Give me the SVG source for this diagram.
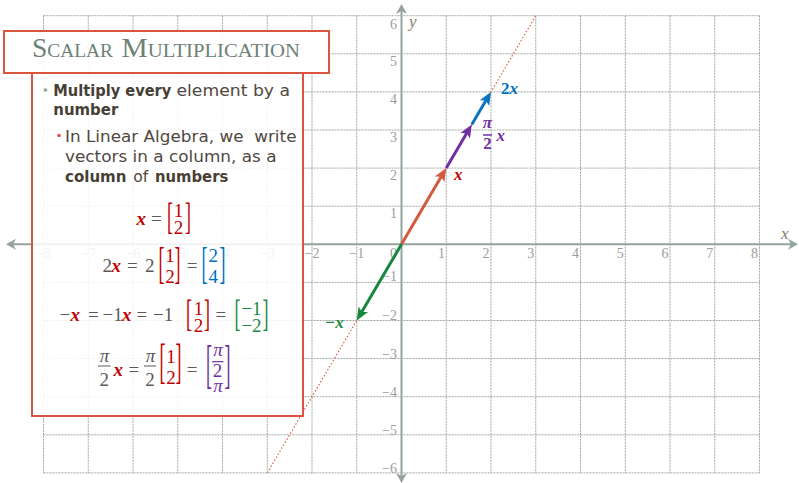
<svg xmlns="http://www.w3.org/2000/svg" width="799" height="483" viewBox="0 0 799 483">
<style>
.grid{fill:none;stroke:#9fa79f;stroke-width:1;stroke-dasharray:2 1}
.axis{fill:none;stroke:#94a39b;stroke-width:2}
.axh{fill:#94a39b}
.tkn{font-family:"Liberation Serif",serif;font-size:14px;fill:#9c9c9c;text-anchor:middle}
.tke{font-family:"Liberation Serif",serif;font-size:14px;fill:#9c9c9c;text-anchor:end}
.axl{font-family:"Liberation Serif",serif;font-size:17px;font-style:italic;fill:#7f7d6c}
.vl{font-family:"Liberation Serif",serif;font-size:17px;font-weight:bold}
.box{fill:#ffffff;stroke:#d9553f;stroke-width:2}
.ttl{font-family:"Liberation Serif",serif;fill:#6d8275}
.bt{font-family:"DejaVu Sans",sans-serif;font-size:15px;fill:#4f483e}
.b{font-weight:bold;fill:#473f35}
.m{font-family:"Liberation Serif",serif;font-size:19px;fill:#595959}
.br{font-family:"Liberation Serif",serif;font-size:18px}
.mx{font-family:"Liberation Serif",serif;font-size:19px;font-weight:bold;font-style:italic;fill:#c00000}
.pi{font-style:italic}
.mc{text-anchor:middle}
.red{fill:#c00000}.blu{fill:#0070c0}.grn{fill:#1b8a43}.pur{fill:#7030a0}
.vec{fill:none;stroke-width:3}
</style>
<defs>
<marker id="ar" markerUnits="userSpaceOnUse" orient="auto" refX="0" refY="0" markerWidth="30" markerHeight="30" viewBox="-15 -15 30 30" overflow="visible"><path d="M4,0 L-9,-5.5 L-6,0 L-9,5.5 Z" fill="#d35a3f"/></marker>
<marker id="ap" markerUnits="userSpaceOnUse" orient="auto" refX="0" refY="0" markerWidth="30" markerHeight="30" viewBox="-15 -15 30 30" overflow="visible"><path d="M4,0 L-9,-5.5 L-6,0 L-9,5.5 Z" fill="#7030a0"/></marker>
<marker id="ab" markerUnits="userSpaceOnUse" orient="auto" refX="0" refY="0" markerWidth="30" markerHeight="30" viewBox="-15 -15 30 30" overflow="visible"><path d="M4,0 L-9,-5.5 L-6,0 L-9,5.5 Z" fill="#0b74c0"/></marker>
<marker id="ag" markerUnits="userSpaceOnUse" orient="auto" refX="0" refY="0" markerWidth="30" markerHeight="30" viewBox="-15 -15 30 30" overflow="visible"><path d="M4,0 L-9,-5.5 L-6,0 L-9,5.5 Z" fill="#16873d"/></marker>
</defs>
<rect width="799" height="483" fill="#ffffff"/>
<g id="grid">
<path class="grid" d="M43.5,15.7V472.9M88.25,15.7V472.9M133,15.7V472.9M177.75,15.7V472.9M222.5,15.7V472.9M267.25,15.7V472.9M312,15.7V472.9M356.75,15.7V472.9M446.25,15.7V472.9M491,15.7V472.9M535.75,15.7V472.9M580.5,15.7V472.9M625.25,15.7V472.9M670,15.7V472.9M714.75,15.7V472.9M759.5,15.7V472.9M43.5,15.7H759.5M43.5,53.8H759.5M43.5,91.9H759.5M43.5,130H759.5M43.5,168.1H759.5M43.5,206.2H759.5M43.5,282.4H759.5M43.5,320.5H759.5M43.5,358.6H759.5M43.5,396.7H759.5M43.5,434.8H759.5M43.5,472.9H759.5"/>
</g>
<g id="axes">
<path class="axis" d="M10,244.3H794M401.5,8V479"/>
<path class="axh" d="M6,244.3 L16,238.8 L13,244.3 L16,249.8 Z M798,244.3 L788,238.8 L791,244.3 L788,249.8 Z M401.5,4 L396,14 L401.5,11 L407,14 Z M401.5,483 L396,473 L401.5,476 L407,473 Z"/>
<text class="axl" x="781" y="239">x</text>
<text class="axl" x="409" y="27">y</text>
</g>
<g id="ticks">
<text class="tkn" x="43.5" y="258">−8</text>
<text class="tkn" x="88.25" y="258">−7</text>
<text class="tkn" x="133" y="258">−6</text>
<text class="tkn" x="177.75" y="258">−5</text>
<text class="tkn" x="222.5" y="258">−4</text>
<text class="tkn" x="267.25" y="258">−3</text>
<text class="tkn" x="312" y="258">−2</text>
<text class="tkn" x="356.75" y="258">−1</text>
<text class="tke" x="397" y="258">0</text>
<text class="tke" x="445" y="258">1</text>
<text class="tke" x="489.5" y="258">2</text>
<text class="tke" x="534.25" y="258">3</text>
<text class="tke" x="579" y="258">4</text>
<text class="tke" x="623.75" y="258">5</text>
<text class="tke" x="668.5" y="258">6</text>
<text class="tke" x="713.25" y="258">7</text>
<text class="tke" x="758" y="258">8</text>
<text class="tke" x="397" y="28.5">6</text>
<text class="tke" x="397" y="66">5</text>
<text class="tke" x="397" y="104">4</text>
<text class="tke" x="397" y="142">3</text>
<text class="tke" x="397" y="180">2</text>
<text class="tke" x="397" y="218">1</text>
<text class="tke" x="397" y="281">−1</text>
<text class="tke" x="397" y="319.5">−2</text>
<text class="tke" x="397" y="358.5">−3</text>
<text class="tke" x="397" y="396.5">−4</text>
<text class="tke" x="397" y="434.5">−5</text>
<text class="tke" x="397" y="472.5">−6</text>
</g>
<g id="connectors">
<line x1="267.25" y1="472.9" x2="535.75" y2="15.7" stroke="#e0604a" stroke-width="1.2" stroke-dasharray="1.5 2"/>
<line class="vec" x1="471.8" y1="124.6" x2="488.97" y2="95.35" stroke="#0b74c0" marker-end="url(#ab)"/>
<line class="vec" x1="446.25" y1="168.1" x2="469.77" y2="128.06" stroke="#7030a0" marker-end="url(#ap)"/>
<line class="vec" x1="401.5" y1="244.3" x2="444.22" y2="171.55" stroke="#d35a3f" marker-end="url(#ar)"/>
<line class="vec" x1="401.5" y1="244.3" x2="358.78" y2="317.05" stroke="#16873d" marker-end="url(#ag)"/>
</g>
<g id="vector-labels">
<text class="vl blu" x="501" y="93.5">2<tspan font-style="italic">x</tspan></text>
<text class="vl red" x="454" y="180" font-style="italic">x</text>
<text class="vl grn" x="325" y="327.5" font-style="italic">−x</text>
<text class="vl pur mc" x="487.5" y="128" font-size="15" font-style="italic">π</text>
<line x1="483" y1="135" x2="492" y2="135" stroke="#7030a0" stroke-width="1.5"/>
<text class="vl pur mc" x="487.5" y="149" font-size="15">2</text>
<text class="vl pur" x="496.5" y="140.5" font-size="15" font-style="italic">x</text>
</g>
<g id="title">
<rect class="box" x="4" y="31" width="325" height="42" fill-opacity="0.92"/>
<text class="ttl" x="32" y="57" textLength="81" lengthAdjust="spacingAndGlyphs"><tspan font-size="27">S</tspan><tspan font-size="19">CALAR</tspan></text>
<text class="ttl" x="121.5" y="57" textLength="178.5" lengthAdjust="spacingAndGlyphs"><tspan font-size="27">M</tspan><tspan font-size="19">ULTIPLICATION</tspan></text>
</g>
<g id="content">
<rect class="box" x="32" y="73" width="271" height="343" fill-opacity="0.86"/>
<circle cx="45.5" cy="90" r="1.8" fill="#8fa596"/>
<text class="bt b" x="53.3" y="96" textLength="118" lengthAdjust="spacingAndGlyphs">Multiply every</text>
<text class="bt" x="176.5" y="96" textLength="113.5" lengthAdjust="spacingAndGlyphs">element by a</text>
<text class="bt b" x="53.3" y="115" textLength="65" lengthAdjust="spacingAndGlyphs">number</text>
<circle cx="59" cy="135.5" r="1.8" fill="#e0533c"/>
<text class="bt" x="65" y="141.7" textLength="231.5" lengthAdjust="spacingAndGlyphs" xml:space="preserve">In Linear Algebra, we  write</text>
<text class="bt" x="65" y="161.7" textLength="211.5" lengthAdjust="spacingAndGlyphs">vectors in a column, as a</text>
<text class="bt b" x="65" y="181.7" textLength="61.5" lengthAdjust="spacingAndGlyphs">column</text>
<text class="bt" x="133.3" y="181.7" textLength="15" lengthAdjust="spacingAndGlyphs">of</text>
<text class="bt b" x="155" y="181.7" textLength="73.3" lengthAdjust="spacingAndGlyphs">numbers</text>
</g>
<g id="eq1">
<text class="mx" x="136.5" y="224.5">x</text>
<text class="m" x="151" y="224.5">=</text>
<text class="br red" transform="translate(167,229) scale(1,2.1)">[</text>
<text class="m red mc" x="178.5" y="216.5">1</text>
<text class="m red mc" x="178.5" y="234">2</text>
<text class="br red" transform="translate(185,229) scale(1,2.1)">]</text>
</g>
<g id="eq2">
<text class="m" x="102.5" y="272">2</text>
<text class="mx" x="111.5" y="272">x</text>
<text class="m" x="127" y="272">=</text>
<text class="m" x="145" y="272">2</text>
<text class="br red" transform="translate(158.5,278) scale(1,2.5)">[</text>
<text class="m red mc" x="170" y="261.5">1</text>
<text class="m red mc" x="170" y="283">2</text>
<text class="br red" transform="translate(174.5,278) scale(1,2.5)">]</text>
<text class="m" x="186.7" y="272">=</text>
<text class="br blu" transform="translate(201.5,278) scale(1,2.5)">[</text>
<text class="m blu mc" x="213.3" y="261.5">2</text>
<text class="m blu mc" x="213.3" y="283">4</text>
<text class="br blu" transform="translate(219.5,278) scale(1,2.5)">]</text>
</g>
<g id="eq3">
<text class="m" x="59.5" y="321">−</text>
<text class="mx" x="70.5" y="321">x</text>
<text class="m" x="88" y="321">=</text>
<text class="m" x="102.5" y="321">−1</text>
<text class="mx" x="122" y="321">x</text>
<text class="m" x="136.5" y="321">=</text>
<text class="m" x="153" y="321">−1</text>
<text class="br red" transform="translate(186,325.6) scale(1,2.15)">[</text>
<text class="m red mc" x="198.5" y="314.5">1</text>
<text class="m red mc" x="198.5" y="331.5">2</text>
<text class="br red" transform="translate(204,325.6) scale(1,2.15)">]</text>
<text class="m" x="215.5" y="321">=</text>
<text class="br grn" transform="translate(234.5,325.6) scale(1,2.15)">[</text>
<text class="m grn mc" x="251.5" y="314.5">−1</text>
<text class="m grn mc" x="251.5" y="331.5">−2</text>
<text class="br grn" transform="translate(262.5,325.6) scale(1,2.15)">]</text>
</g>
<g id="eq4">
<text class="m mc pi" x="104.5" y="361.5">π</text>
<line x1="98" y1="366" x2="110.5" y2="366" stroke="#595959" stroke-width="1"/>
<text class="m mc" x="104.2" y="385.5">2</text>
<text class="mx" x="113.5" y="375.5">x</text>
<text class="m" x="128.5" y="375.5">=</text>
<text class="m mc pi" x="150.5" y="361.5">π</text>
<line x1="144" y1="366" x2="156" y2="366" stroke="#595959" stroke-width="1"/>
<text class="m mc" x="150" y="385.5">2</text>
<text class="br red" transform="translate(159.5,377.4) scale(1,2.72)">[</text>
<text class="m red mc" x="171" y="363">1</text>
<text class="m red mc" x="171" y="384">2</text>
<text class="br red" transform="translate(175.5,377.4) scale(1,2.72)">]</text>
<text class="m" x="186.7" y="375.5">=</text>
<text class="br pur" transform="translate(206,381.8) scale(1,2.95)">[</text>
<text class="m pur mc pi" x="218" y="355.5" font-size="17">π</text>
<line x1="212" y1="361.7" x2="223.5" y2="361.7" stroke="#7030a0" stroke-width="1.2"/>
<text class="m pur mc" x="217.5" y="377" font-size="16">2</text>
<text class="m pur mc pi" x="218" y="391.5" font-size="17">π</text>
<text class="br pur" transform="translate(224.5,381.8) scale(1,2.95)">]</text>
</g>
</svg>
